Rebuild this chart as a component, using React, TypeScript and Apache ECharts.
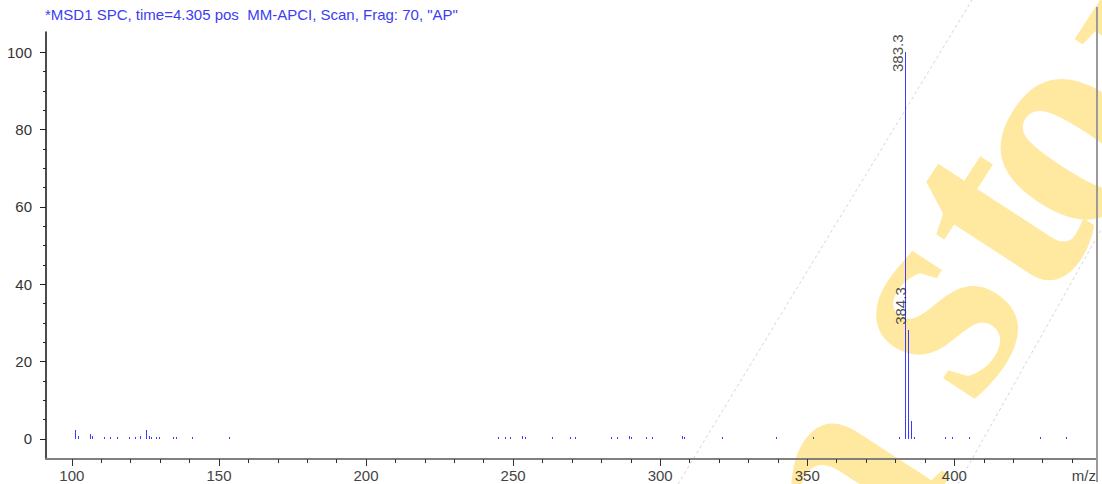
import React, { useEffect, useRef } from "react";
import * as echarts from "echarts";

// ---- data ----
const titleText = '*MSD1 SPC, time=4.305 pos  MM-APCI, Scan, Frag: 70, "AP"';
const mzValues = [
  101.1, 102.0, 106.1, 106.8, 111.0, 113.0, 115.2, 119.3, 121.3, 123.3, 125.2, 126.3, 127.0, 128.6, 129.5,
  134.5, 135.4, 141.0, 153.3,
  245.0, 247.3, 249.1, 253.1, 254.0, 263.1, 269.4, 271.2, 283.3, 285.2, 289.3, 290.2, 295.2, 297.3, 307.3, 308.0,
  320.9, 339.3, 352.1, 381.1, 383.3, 384.3, 385.3, 386.3, 396.9, 399.2, 404.9, 429.0, 438.1,
];
const intensities = [
  2.3, 0.7, 1.2, 0.8, 0.4, 0.4, 0.4, 0.5, 0.6, 0.8, 2.3, 0.8, 0.4, 0.4, 0.4,
  0.4, 0.4, 0.4, 0.4,
  0.4, 0.4, 0.4, 0.8, 0.5, 0.4, 0.4, 0.4, 0.4, 0.4, 0.7, 0.4, 0.4, 0.4, 0.7, 0.4,
  0.4, 0.4, 0.4, 0.4, 100, 28.2, 4.7, 0.5, 0.4, 0.4, 0.4, 0.4, 0.4,
];
const labelledMz = [383.3, 384.3];
const xMajorTicks = [100, 150, 200, 250, 300, 350, 400];
const xMinorTicks = [110, 120, 130, 140, 160, 170, 180, 190, 210, 220, 230, 240, 260, 270, 280, 290, 310, 320, 330, 340, 360, 370, 380, 390, 410, 420, 430, 440];
const yMajorTicks = [0, 20, 40, 60, 80, 100];
const yMinorTicks = [5, 10, 15, 25, 30, 35, 45, 50, 55, 65, 70, 75, 85, 90, 95];
const xRange = [91.2, 448.5];
const yRange = [-5.2, 105.2];
const xAxisTitle = "m/z";
// watermark glyphs (decoration): letter, visual centre x, y, local vertical shift
const watermarkGlyphs: [string, number, number, number][] = [
  ["n", 850, 505, 33],
  ["s", 948, 323, 33],
  ["t", 997, 220, 12],
  ["o", 1075, 150, 33],
  ["r", 1165, 28, 33],
];

const FONT = '"Liberation Sans", Arial, sans-serif';
const PEAK_COLOR = "#3c3cff";
const WM_ANGLE = (57 * Math.PI) / 180;
const GRID = { left: 46, right: 5, top: 32, bottom: 25 };
const CHART_H = 484;

export default function App() {
  const ref = useRef<HTMLDivElement>(null);
  useEffect(() => {
    if (!ref.current) return;
    const chart = echarts.init(ref.current, null, { renderer: "svg" });
    const data = mzValues.map((m, i) => [m, intensities[i]]);
    // label anchors: 5px above the peak top, but kept inside the plot area (text ~40px long)
    const plotH = CHART_H - GRID.top - GRID.bottom;
    const yPix = (v: number) => GRID.top + ((yRange[1] - v) / (yRange[1] - yRange[0])) * plotH;
    const labelData = data
      .filter((d) => labelledMz.indexOf(d[0]) >= 0)
      .map((d) => {
        const topPx = yPix(d[1]);
        const anchor = Math.max(topPx - 5, GRID.top + 40);
        return { value: d, label: { position: [0, anchor - topPx] } };
      });
    const sinA = Math.sin(WM_ANGLE);
    const cosA = Math.cos(WM_ANGLE);
    const wm = watermarkGlyphs.map(([ch, cx, cy, sh]) => ({
      type: "text",
      z: -10,
      silent: true,
      x: cx - sh * sinA,
      y: cy - sh * cosA,
      rotation: WM_ANGLE,
      style: {
        text: ch,
        font: 'bold 300px "Liberation Serif"',
        fill: "#ffe9a0",
        align: "center",
        verticalAlign: "middle",
      },
    }));
    const option: any = {
      animation: false,
      backgroundColor: "#ffffff",
      textStyle: { fontFamily: FONT },
      title: {
        text: titleText,
        left: 40,
        top: 2,
        textStyle: { color: "#3c3cf5", fontSize: 15, fontWeight: "normal", fontFamily: FONT },
      },
      grid: { ...GRID, containLabel: false, outerBoundsMode: "none" },
      xAxis: [
        {
          type: "value",
          position: "bottom",
          min: xRange[0],
          max: xRange[1],
          axisLine: { show: true, onZero: false, lineStyle: { color: "#808080", width: 2 } },
          axisTick: { show: true, customValues: xMajorTicks, length: 7, lineStyle: { color: "#333" } },
          axisLabel: { show: true, customValues: xMajorTicks, color: "#444", fontSize: 15, margin: 9, fontFamily: FONT },
          splitLine: { show: false },
        },
        {
          type: "value",
          position: "bottom",
          offset: 0,
          min: xRange[0],
          max: xRange[1],
          axisLine: { show: false, onZero: false },
          axisTick: { show: true, customValues: xMinorTicks, length: 4, lineStyle: { color: "#333" } },
          axisLabel: { show: false },
          splitLine: { show: false },
        },
      ],
      yAxis: [
        {
          type: "value",
          position: "left",
          min: yRange[0],
          max: yRange[1],
          axisLine: { show: true, onZero: false, lineStyle: { color: "#111", width: 1.5 } },
          axisTick: { show: true, customValues: yMajorTicks, length: 6, lineStyle: { color: "#222" } },
          axisLabel: { show: true, customValues: yMajorTicks, color: "#333", fontSize: 15, margin: 14, fontFamily: FONT },
          splitLine: { show: false },
        },
        {
          type: "value",
          position: "left",
          offset: 0,
          min: yRange[0],
          max: yRange[1],
          axisLine: { show: false, onZero: false },
          axisTick: { show: true, customValues: yMinorTicks, length: 3, lineStyle: { color: "#222" } },
          axisLabel: { show: false },
          splitLine: { show: false },
        },
      ],
      graphic: [
        ...wm,
        {
          type: "line",
          z: -9,
          silent: true,
          shape: { x1: 678, y1: 484, x2: 972, y2: 0 },
          style: { stroke: "#d6d6d6", lineWidth: 1, lineDash: [3, 3] },
        },
        {
          type: "line",
          z: -9,
          silent: true,
          shape: { x1: 958, y1: 484, x2: 1102, y2: 228 },
          style: { stroke: "#d6d6d6", lineWidth: 1, lineDash: [3, 3] },
        },
        {
          type: "line",
          z: 5,
          silent: true,
          shape: { x1: 1097, y1: 7, x2: 1097, y2: 482 },
          style: { stroke: "#9a9a9a", lineWidth: 2 },
        },
        {
          type: "text",
          z: 5,
          silent: true,
          x: 1096,
          y: 468,
          style: {
            text: xAxisTitle,
            font: '15px "Liberation Sans"',
            fill: "#444",
            align: "right",
            verticalAlign: "top",
          },
        },
      ],
      series: [
        {
          type: "custom",
          xAxisIndex: 0,
          yAxisIndex: 0,
          z: 10,
          data,
          encode: { x: 0, y: 1 },
          renderItem: (params: any, api: any) => {
            const mz = api.value(0);
            const inten = api.value(1);
            const base = api.coord([mz, 0]);
            const top = api.coord([mz, inten]);
            const x = Math.round(base[0]);
            const y0 = Math.round(base[1]);
            const yt = Math.min(Math.round(top[1]), y0 - 1);
            return {
              type: "rect",
              shape: { x: x, y: yt, width: 1, height: y0 - yt },
              style: { fill: PEAK_COLOR, stroke: null },
            };
          },
        },
        {
          type: "scatter",
          xAxisIndex: 0,
          yAxisIndex: 0,
          data: labelData,
          symbolSize: 0,
          itemStyle: { color: "rgba(0,0,0,0)" },
          silent: true,
          z: 11,
          label: {
            show: true,
            rotate: 90,
            align: "left",
            verticalAlign: "bottom",
            color: "#222",
            fontSize: 15,
            fontFamily: FONT,
            formatter: (p: any) => Number(p.value[0]).toFixed(1),
          },
        },
      ],
    };
    chart.setOption(option);
    return () => chart.dispose();
  }, []);
  return (
    <div
      ref={ref}
      style={{ position: "fixed", left: 0, top: 0, width: 1102, height: 484, background: "#fff" }}
    />
  );
}
